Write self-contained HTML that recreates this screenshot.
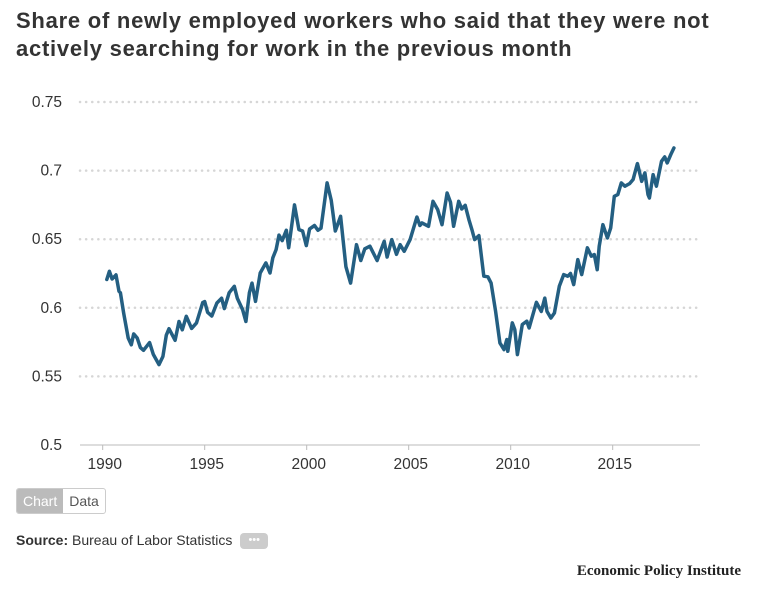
<!DOCTYPE html>
<html><head><meta charset="utf-8"><style>
body{margin:0;background:#fff;width:759px;height:590px;overflow:hidden;font-family:"Liberation Sans",sans-serif;}
#title{position:absolute;left:16px;top:7px;font-size:22px;letter-spacing:0.75px;font-weight:bold;color:#333;line-height:28px;width:722px;}
svg{position:absolute;left:0;top:0;}
#toggle{position:absolute;left:16px;top:488px;height:24px;border:1px solid #ccc;border-radius:3px;display:flex;font-size:14px;overflow:hidden;}
#toggle div{padding:0 6px;line-height:24px;}
#src{position:absolute;left:16px;top:532px;font-size:14px;color:#333;}
#dots{display:inline-block;background:#ccc;border-radius:4px;width:28px;height:16px;vertical-align:middle;margin-left:4px;color:#fff;font-size:11px;text-align:center;line-height:14px;}
#logo{position:absolute;right:18px;top:563px;font-family:"Liberation Serif",serif;font-weight:bold;font-size:15px;color:#222;}
</style></head><body>
<div id="title">Share of newly employed workers who said that they were not actively searching for work in the previous month</div>
<svg id="chart" width="759" height="590"></svg>
<div id="toggle">
<div style="background:#bbb;color:#fff">Chart</div>
<div style="color:#555">Data</div></div>
<div id="src"><b>Source:</b> Bureau of Labor Statistics <span id="dots">•••</span></div>
<div id="logo">Economic Policy Institute</div>
<script>
const yTicks=[0.5,0.55,0.6,0.65,0.7,0.75];
const yTickLabels=["0.5","0.55","0.6","0.65","0.7","0.75"];
const xTicks=[1990,1995,2000,2005,2010,2015];
const years=[1990.2,1990.33,1990.46,1990.65,1990.8,1990.87,1991.03,1991.25,1991.4,1991.52,1991.69,1991.85,1992.0,1992.3,1992.48,1992.76,1992.95,1993.12,1993.25,1993.55,1993.74,1993.9,1994.1,1994.36,1994.6,1994.9,1995.0,1995.14,1995.35,1995.6,1995.83,1995.96,1996.2,1996.45,1996.6,1996.86,1997.02,1997.19,1997.32,1997.49,1997.72,1998.0,1998.2,1998.34,1998.5,1998.64,1998.8,1999.0,1999.12,1999.4,1999.62,1999.8,1999.98,2000.14,2000.38,2000.55,2000.7,2001.0,2001.2,2001.4,2001.66,2001.92,2002.15,2002.44,2002.65,2002.85,2003.1,2003.45,2003.8,2003.94,2004.17,2004.4,2004.58,2004.78,2005.07,2005.4,2005.55,2005.65,2005.97,2006.19,2006.42,2006.63,2006.88,2007.05,2007.2,2007.45,2007.6,2007.77,2007.95,2008.1,2008.23,2008.44,2008.68,2008.88,2009.04,2009.26,2009.47,2009.67,2009.81,2009.86,2010.08,2010.2,2010.33,2010.57,2010.79,2010.9,2011.26,2011.5,2011.67,2011.78,2011.97,2012.14,2012.38,2012.6,2012.8,2012.93,2013.09,2013.29,2013.48,2013.76,2013.95,2014.1,2014.24,2014.34,2014.52,2014.74,2014.9,2015.08,2015.25,2015.42,2015.6,2015.83,2016.0,2016.21,2016.42,2016.58,2016.73,2016.8,2016.98,2017.14,2017.39,2017.55,2017.67,2017.85,2018.0];
const values=[0.6206,0.6266,0.621,0.624,0.612,0.611,0.596,0.578,0.573,0.581,0.578,0.571,0.569,0.5746,0.566,0.5586,0.5645,0.58,0.5848,0.5763,0.59,0.584,0.5938,0.585,0.589,0.6038,0.6045,0.5967,0.594,0.6035,0.607,0.5994,0.611,0.6157,0.607,0.5987,0.59,0.611,0.618,0.6047,0.6254,0.6327,0.6254,0.6364,0.6424,0.653,0.649,0.6565,0.6437,0.675,0.657,0.656,0.6453,0.6575,0.66,0.6565,0.658,0.691,0.6785,0.656,0.6667,0.63,0.618,0.646,0.6345,0.643,0.6449,0.6345,0.6485,0.637,0.6497,0.639,0.646,0.6412,0.6497,0.6662,0.66,0.6619,0.6594,0.6776,0.6716,0.6606,0.6837,0.677,0.6594,0.6776,0.672,0.6747,0.6643,0.657,0.6497,0.6526,0.623,0.6226,0.618,0.5974,0.5744,0.5695,0.5768,0.5683,0.589,0.5841,0.5659,0.5878,0.5902,0.5853,0.604,0.5974,0.6071,0.5974,0.5926,0.5962,0.6157,0.6242,0.623,0.625,0.6169,0.6351,0.6242,0.6437,0.6376,0.6388,0.6278,0.6448,0.6606,0.6509,0.6582,0.6813,0.6825,0.691,0.6886,0.6905,0.6935,0.7051,0.6922,0.6983,0.6825,0.68,0.6971,0.6886,0.7068,0.71,0.7056,0.7117,0.7165];
const NS="http://www.w3.org/2000/svg";
const svg=document.getElementById('chart');
const X=y=>102.7+(y-1990)*20.4;
const Y=v=>445-(v-0.5)*1372;
function mk(t,a){const e=document.createElementNS(NS,t);for(const k in a)e.setAttribute(k,a[k]);svg.appendChild(e);return e;}
yTicks.forEach((t,i)=>{
  if(i>0){const g=mk('line',{x1:80,x2:700,y1:Y(t),y2:Y(t),stroke:'#d6d6d6','stroke-width':2.5,'stroke-dasharray':'0.1 6','stroke-linecap':'round'});
  
  }
  const l=mk('text',{x:62,y:Y(t)+5,'text-anchor':'end','font-size':15.5,fill:'#333'});
  l.textContent=yTickLabels[i];
  
  
});
const ax=mk('line',{x1:80,x2:700,y1:445,y2:445,stroke:'#bbb','stroke-width':1});


xTicks.forEach(t=>{
  const tk=mk('line',{x1:X(t),x2:X(t),y1:445,y2:450,stroke:'#bbb'});
  
  
  const l=mk('text',{x:X(t)+2,y:469,'text-anchor':'middle','font-size':15.5,fill:'#333'});
  l.textContent=t;
  
  
});
const d=years.map((y,i)=>(i?'L':'M')+X(y).toFixed(1)+' '+Y(values[i]).toFixed(1)).join(' ');
const p=mk('path',{d:d,fill:'none',stroke:'#245f82','stroke-width':3.5,'stroke-linejoin':'round','stroke-linecap':'round'});


</script>
</body></html>
